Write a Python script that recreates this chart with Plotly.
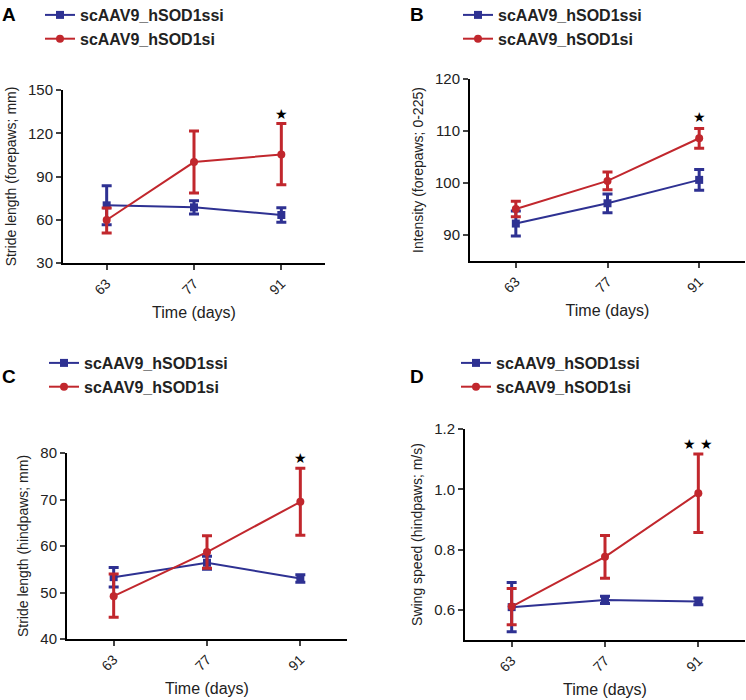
import plotly.graph_objects as go

# x values (days)
days = [63, 77, 91]

# panel A - stride length forepaws
a_ssi = [70.0, 68.6, 63.3]
a_ssi_err = [13.5, 4.6, 5.0]
a_si = [59.8, 100.0, 105.3]
a_si_up = [8.4, 21.5, 21.5]
a_si_dn = [9.0, 21.5, 21.0]

# panel B - intensity forepaws
b_ssi = [92.2, 96.1, 100.6]
b_ssi_err = [2.4, 1.8, 2.0]
b_si = [95.0, 100.4, 108.6]
b_si_err = [1.5, 1.7, 1.9]

# panel C - stride length hindpaws
c_ssi = [53.3, 56.4, 53.0]
c_ssi_err = [2.1, 1.4, 0.8]
c_si = [49.2, 58.7, 69.5]
c_si_up = [4.8, 3.5, 7.2]
c_si_dn = [4.5, 3.5, 7.2]

# panel D - swing speed hindpaws
d_ssi = [0.609, 0.633, 0.628]
d_ssi_err = [0.082, 0.012, 0.011]
d_si = [0.611, 0.776, 0.987]
d_si_err = [0.06, 0.071, 0.13]

# significance stars (y positions in data units)
stars = [("★", 134), ("★", 112.8), ("★", 79.1), ("★ ★", 1.153)]

names = ["scAAV9_hSOD1ssi", "scAAV9_hSOD1si"]
BLUE = "rgb(46,49,146)"
RED = "rgb(193,39,45)"
FONT = "Arial, Liberation Sans, sans-serif"
TXT = "#222"

W, H = 746, 700

# pixel boxes of each plot area: x0, x1, y_top, y_bottom
boxes = [(63, 325, 90, 263), (470, 745, 79, 261), (67, 347, 453, 639), (465, 745, 429, 640)]
yranges = [[30, 150], [85, 120], [40, 80], [0.5, 1.2]]
ytickvals = [[30, 60, 90, 120, 150], [90, 100, 110, 120], [40, 50, 60, 70, 80], [0.6, 0.8, 1.0, 1.2]]
yticktext = [None, None, None, ["0.6", "0.8", "1.0", "1.2"]]
ytitles = ["Stride length (forepaws; mm)", "Intensity (forepaws; 0-225)",
           "Stride length (hindpaws; mm)", "Swing speed (hindpaws; m/s)"]
letters = [("A", 9, 14), ("B", 417, 14), ("C", 9, 376), ("D", 417, 376)]
legend_pos = [(40, -2), (458, -2), (44, 346), (456, 346)]

panels = [
    (a_ssi, a_ssi_err, a_ssi_err, a_si, a_si_up, a_si_dn),
    (b_ssi, b_ssi_err, b_ssi_err, b_si, b_si_err, b_si_err),
    (c_ssi, c_ssi_err, c_ssi_err, c_si, c_si_up, c_si_dn),
    (d_ssi, d_ssi_err, d_ssi_err, d_si, d_si_err, d_si_err),
]

fig = go.Figure()
layout = {}
annotations = []

for i, (ssi, ssi_up, ssi_dn, si, si_up, si_dn) in enumerate(panels):
    n = "" if i == 0 else str(i + 1)
    xa, ya = "x" + n, "y" + n
    leg = "legend" + n
    fig.add_trace(go.Scatter(
        x=days, y=ssi, name=names[0], xaxis=xa, yaxis=ya, legend=leg,
        mode="lines+markers", line=dict(color=BLUE, width=2),
        marker=dict(symbol="square", size=8, color=BLUE),
        error_y=dict(type="data", array=ssi_up, arrayminus=ssi_dn,
                     color=BLUE, thickness=3, width=5)))
    fig.add_trace(go.Scatter(
        x=days, y=si, name=names[1], xaxis=xa, yaxis=ya, legend=leg,
        mode="lines+markers", line=dict(color=RED, width=2),
        marker=dict(symbol="circle", size=8, color=RED),
        error_y=dict(type="data", array=si_up, arrayminus=si_dn,
                     color=RED, thickness=3, width=5)))

    x0, x1, yt, yb = boxes[i]
    layout["xaxis" + n] = dict(
        domain=[x0 / W, x1 / W], anchor=ya, range=[56, 98], automargin=False,
        tickvals=days, tickangle=-45, ticks="outside", ticklen=5, tickwidth=2,
        showline=True, linewidth=2, linecolor="black", showgrid=False, zeroline=False,
        tickfont=dict(size=14, color=TXT, family=FONT),
        title=dict(text="Time (days)", font=dict(size=16, color=TXT, family=FONT), standoff=10))
    yax = dict(
        domain=[1 - yb / H, 1 - yt / H], anchor=xa, range=yranges[i], automargin=False,
        tickvals=ytickvals[i], ticks="outside", ticklen=5, tickwidth=2,
        showline=True, linewidth=2, linecolor="black", showgrid=False, zeroline=False,
        tickfont=dict(size=15, color=TXT, family=FONT),
        title=dict(text=ytitles[i], font=dict(size=14, color=TXT, family=FONT), standoff=8))
    if yticktext[i]:
        yax["ticktext"] = yticktext[i]
    layout["yaxis" + n] = yax

    lx, ly = legend_pos[i]
    layout[leg] = dict(x=lx / W, y=1 - ly / H, xanchor="left", yanchor="top",
                       bgcolor="rgba(0,0,0,0)", tracegroupgap=0,
                       font=dict(size=16, color=TXT, family=FONT, weight="bold"))

    txt, sy = stars[i]
    annotations.append(dict(x=91, y=sy, xref=xa, yref=ya, text=txt, showarrow=False,
                            font=dict(size=14, color="black")))
    lt, px, py = letters[i]
    annotations.append(dict(x=px / W, y=1 - py / H, xref="paper", yref="paper",
                            xanchor="center", yanchor="middle", text="<b>" + lt + "</b>",
                            showarrow=False, font=dict(size=19, color="black", family=FONT)))

fig.update_layout(**layout)
fig.update_layout(
    width=W, height=H, margin=dict(l=0, r=0, t=0, b=0, autoexpand=False),
    plot_bgcolor="white", paper_bgcolor="white",
    annotations=annotations, showlegend=True,
)

fig.write_html("out.html", config={"displayModeBar": False},
               post_script="document.body.style.margin='0';")
